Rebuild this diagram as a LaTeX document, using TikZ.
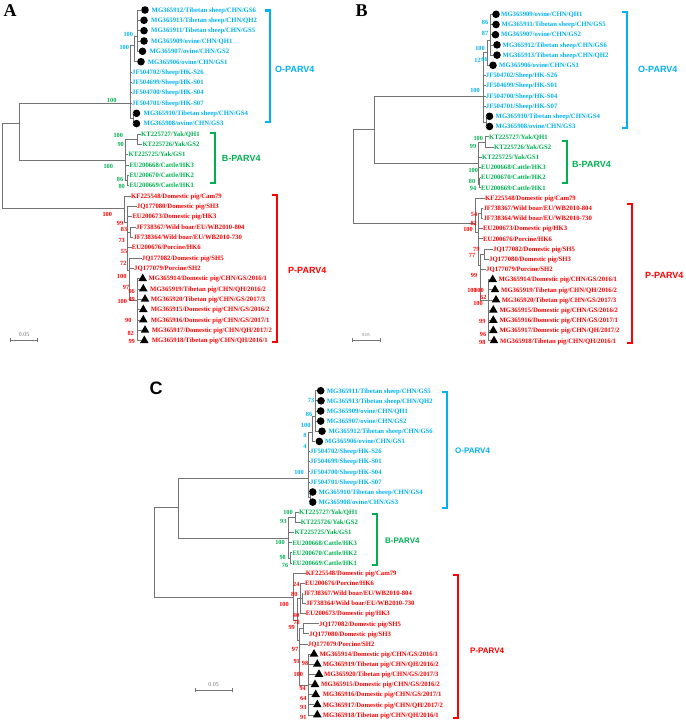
\documentclass[tikz,border=0pt]{standalone}
\usepackage{fontspec}
\setmainfont{Liberation Serif}
\newfontfamily\sansf{Liberation Sans}
\usetikzlibrary{shapes.geometric,calc}
\definecolor{ob}{HTML}{00B0F0}
\definecolor{bg}{HTML}{00B050}
\definecolor{pr}{HTML}{FF0000}
\definecolor{tg}{HTML}{747474}
\newcounter{bsn}
\tikzset{
  leaf/.style={anchor=west,inner sep=0pt,text height=4.6pt,text depth=0pt,font=\bfseries\fontsize{6.7}{7}\selectfont},
  boot/.style={inner sep=0pt,text height=4.4pt,text depth=0pt,font=\bfseries\fontsize{6.3}{7}\selectfont},
  br/.style={draw=tg,line width=0.75pt},
  dot/.style={circle,fill=black,minimum size=7.6pt,inner sep=0pt},
  tri/.style={regular polygon,regular polygon sides=3,fill=black,minimum size=10pt,inner sep=0pt},
  brk/.style={line width=2.4pt},
  brlab/.style={anchor=west,inner sep=0pt,text height=6pt,text depth=0pt},
  panel/.style={inner sep=0pt,font=\bfseries\fontsize{18}{18}\selectfont}
}
\newcommand\lf[6]{\node[leaf,text=#4] (#1) at (#2,#3) {#5}; \draw[br] (#6,#3) -- (#1.west);}
\newcommand\lfm[8]{\node[#2] (#1m) at (#3,#5) {}; \node[leaf,text=#6] (#1) at (#4,#5) {#7}; \draw[br] (#8,#5) -- (#1m.west);}
\newcommand\bs[4]{\stepcounter{bsn}\node[boot,text=#1] (bs\thebsn) at (#2,#3) {#4};}
\newcommand\brkt[9]{\draw[brk,#2] (#3-5,#4) -- (#3,#4) -- (#3,#5) -- (#3-5,#5); \node[brlab,text=#2,font=\sansf\bfseries\fontsize{#9}{#9}\selectfont] (#1) at (#6,#7) {#8};}
\newcommand\sbar[6]{\coordinate (#1l) at (#2,#4); \coordinate (#1r) at (#3,#4); \draw[br,line width=0.6pt] (#1l) -- (#1r); \draw[br,line width=0.6pt] ($(#1l)+(0,-2)$) -- ($(#1l)+(0,2)$); \draw[br,line width=0.6pt] ($(#1r)+(0,-2)$) -- ($(#1r)+(0,2)$); \node[inner sep=0pt,text=tg,font=\fontsize{#6}{#6}\selectfont] (#1t) at ($(#1l)!0.5!(#1r)+(0,-5)$) {#5};}
\begin{document}
\begin{tikzpicture}[x=1pt,y=-1pt]
\useasboundingbox (0,0) rectangle (685,725);
% ================= PANEL A =================
\node[panel] (pA) at (10,11) {A};
\draw[br] (2,123) -- (2,208); \draw[br] (2,123) -- (19,123); \draw[br] (2,208) -- (124,208);
\draw[br] (19,103) -- (19,160); \draw[br] (19,103) -- (130,103); \draw[br] (19,160) -- (125,160);
\draw[br] (130,45) -- (130,118); \draw[br] (130,45) -- (134,45); \draw[br] (134,36) -- (134,61.7);
\draw[br] (134,36) -- (137,36); \draw[br] (137,10) -- (137,51.3); \draw[br] (130,118) -- (133,118); \draw[br] (133,113.3) -- (133,123.6);
\draw[br] (125,139) -- (125,180); \draw[br] (125,139) -- (137,139); \draw[br] (137,134) -- (137,144.3);
\draw[br] (125,180) -- (127,180); \draw[br] (127,175.3) -- (127,185.6);
\draw[br] (124,196) -- (124,222); \draw[br] (124,222) -- (127,222); \draw[br] (127,206.3) -- (127,270);
\draw[br] (127,232) -- (130,232); \draw[br] (130,226.9) -- (130,237.3); \draw[br] (127,270) -- (129,270);
\draw[br] (129,257.9) -- (129,300); \draw[br] (129,300) -- (137,300); \draw[br] (137,278.6) -- (137,340.6);
\lfm{a1}{dot}{145}{151.5}{10}{ob}{MG365912/Tibetan sheep/CHN/GS6}{137}
\lfm{a2}{dot}{144}{151}{20.3}{ob}{MG365913/Tibetan sheep/CHN/QH2}{137}
\lfm{a3}{dot}{144}{151}{30.7}{ob}{MG365911/Tibetan sheep/CHN/GS5}{137}
\lfm{a4}{dot}{144}{151}{41}{ob}{MG365909/ovine/CHN/QH1}{137}
\lfm{a5}{dot}{142.5}{149.3}{51.3}{ob}{MG365907/ovine/CHN/GS2}{137}
\lfm{a6}{dot}{141}{147.7}{61.7}{ob}{MG365906/ovine/CHN/GS1}{134}
\lf{a7}{132}{72}{ob}{JF504702/Sheep/HK-S26}{130}
\lf{a8}{132}{82.3}{ob}{JF504699/Sheep/HK-S01}{130}
\lf{a9}{132}{92.6}{ob}{JF504700/Sheep/HK-S04}{130}
\lf{a10}{132}{103}{ob}{JF504701/Sheep/HK-S07}{130}
\lfm{a11}{dot}{136.5}{143.5}{113.3}{ob}{MG365910/Tibetan sheep/CHN/GS4}{133}
\lfm{a12}{dot}{136.5}{143.5}{123.6}{ob}{MG365908/ovine/CHN/GS3}{133}
\lf{a13}{141}{134}{bg}{KT225727/Yak/QH1}{137}
\lf{a14}{142.3}{144.3}{bg}{KT225726/Yak/GS2}{137}
\lf{a15}{128.3}{154.6}{bg}{KT225725/Yak/GS1}{125}
\lf{a16}{129.3}{165}{bg}{EU200668/Cattle/HK3}{125}
\lf{a17}{129.3}{175.3}{bg}{EU200670/Cattle/HK2}{127}
\lf{a18}{129.3}{185.6}{bg}{EU200669/Cattle/HK1}{127}
\lf{a19}{131}{196}{pr}{KF225548/Domestic pig/Cam79}{124}
\lf{a20}{136.7}{206.3}{pr}{JQ177080/Domestic pig/SH3}{127}
\lf{a21}{132.3}{216.6}{pr}{EU200673/Domestic pig/HK3}{127}
\lf{a22}{136}{226.9}{pr}{JF738367/Wild boar/EU/WB2010-804}{130}
\lf{a23}{133.3}{237.3}{pr}{JF738364/Wild boar/EU/WB2010-730}{130}
\lf{a24}{131.7}{247.6}{pr}{EU200676/Porcine/HK6}{127}
\lf{a25}{141.7}{257.9}{pr}{JQ177082/Domestic pig/SH5}{129}
\lf{a26}{134}{268.3}{pr}{JQ177079/Porcine/SH2}{129}
\lfm{a27}{tri}{142.7}{148.3}{278.6}{pr}{MG365914/Domestic pig/CHN/GS/2016/1}{137}
\lfm{a28}{tri}{143.3}{150}{288.9}{pr}{MG365919/Tibetan pig/CHN/QH/2016/2}{137}
\lfm{a29}{tri}{145}{150.7}{299.2}{pr}{MG365920/Tibetan pig/CHN/GS/2017/3}{137}
\lfm{a30}{tri}{143.3}{150.7}{309.6}{pr}{MG365915/Domestic pig/CHN/GS/2016/2}{137}
\lfm{a31}{tri}{143.3}{150.7}{319.9}{pr}{MG365916/Domestic pig/CHN/GS/2017/1}{137}
\lfm{a32}{tri}{145}{151.7}{330.2}{pr}{MG365917/Domestic pig/CHN/QH/2017/2}{137}
\lfm{a33}{tri}{144.3}{151.7}{340.6}{pr}{MG365918/Tibetan pig/CHN/QH/2016/1}{137}
\bs{ob}{128.3}{34}{100} \bs{ob}{124.3}{47.3}{100} \bs{bg}{111.7}{100}{100}
\bs{bg}{118.3}{135.7}{100} \bs{bg}{120.7}{144}{90} \bs{bg}{108.3}{166}{100} \bs{bg}{120}{179.3}{86} \bs{bg}{121.7}{186.7}{80}
\bs{pr}{107.3}{214}{100} \bs{pr}{120}{223.3}{99} \bs{pr}{124}{229.3}{83} \bs{pr}{121.7}{240}{73} \bs{pr}{124}{251.7}{55}
\bs{pr}{123.3}{263.3}{72} \bs{pr}{121.7}{276.7}{100} \bs{pr}{126}{287.7}{97} \bs{pr}{131.7}{291.7}{96} \bs{pr}{131.7}{299.3}{49}
\bs{pr}{122.3}{301.7}{100} \bs{pr}{128.3}{320}{90} \bs{pr}{130.7}{333.3}{82} \bs{pr}{131.7}{341.7}{99}
\brkt{oA}{ob}{270}{10.7}{122}{275}{69}{O-PARV4}{9}
\brkt{bA}{bg}{215}{132.7}{182.7}{221.7}{158.3}{B-PARV4}{9}
\brkt{pA}{pr}{277}{195}{342}{288}{270}{P-PARV4}{9}
\sbar{sA}{10.7}{37.3}{340}{0.05}{6}
% ================= PANEL B =================
\node[panel] (pB) at (361.7,11) {B};
\draw[br] (353,129) -- (353,223); \draw[br] (353,129) -- (374,129); \draw[br] (353,223) -- (475,223);
\draw[br] (374,96) -- (374,163); \draw[br] (374,96) -- (483,96); \draw[br] (374,163) -- (478,163);
\draw[br] (483,52) -- (483,122); \draw[br] (483,52) -- (487,52); \draw[br] (487,40) -- (487,65.3);
\draw[br] (487,40) -- (490,40); \draw[br] (490,14.3) -- (490,55.1); \draw[br] (483,122) -- (486,122); \draw[br] (486,116.3) -- (486,126.5);
\draw[br] (478,142) -- (478,184); \draw[br] (478,142) -- (485,142); \draw[br] (485,136.7) -- (485,146.9);
\draw[br] (478,184) -- (479.5,184); \draw[br] (479.5,177.5) -- (479.5,187.7);
\draw[br] (475,197.9) -- (475,232); \draw[br] (475,232) -- (478,232); \draw[br] (478,213) -- (478,265);
\draw[br] (478,213) -- (481,213); \draw[br] (481,208.1) -- (481,218.3); \draw[br] (478,265) -- (480,265);
\draw[br] (480,254) -- (480,300); \draw[br] (480,254) -- (484,254); \draw[br] (484,248.9) -- (484,259.1);
\draw[br] (480,300) -- (488,300); \draw[br] (488,279.5) -- (488,340.7);
\lfm{b1}{dot}{496}{501}{14.3}{ob}{MG365909/ovine/CHN/QH1}{490}
\lfm{b2}{dot}{496}{501.5}{24.5}{ob}{MG365911/Tibetan sheep/CHN/GS5}{490}
\lfm{b3}{dot}{495.5}{501}{34.7}{ob}{MG365907/ovine/CHN/GS2}{490}
\lfm{b4}{dot}{497}{502.5}{44.9}{ob}{MG365912/Tibetan sheep/CHN/GS6}{490}
\lfm{b5}{dot}{497}{502.5}{55.1}{ob}{MG365913/Tibetan sheep/CHN/QH2}{490}
\lfm{b6}{dot}{493}{499}{65.3}{ob}{MG365906/ovine/CHN/GS1}{487}
\lf{b7}{485.7}{75.5}{ob}{JF504702/Sheep/HK-S26}{483}
\lf{b8}{485.7}{85.7}{ob}{JF504699/Sheep/HK-S01}{483}
\lf{b9}{485.7}{95.9}{ob}{JF504700/Sheep/HK-S04}{483}
\lf{b10}{485.7}{106.1}{ob}{JF504701/Sheep/HK-S07}{483}
\lfm{b11}{dot}{489.5}{495.5}{116.3}{ob}{MG365910/Tibetan sheep/CHN/GS4}{486}
\lfm{b12}{dot}{489.5}{495.5}{126.5}{ob}{MG365908/ovine/CHN/GS3}{486}
\lf{b13}{489}{136.7}{bg}{KT225727/Yak/QH1}{485}
\lf{b14}{494}{146.9}{bg}{KT225726/Yak/GS2}{485}
\lf{b15}{482}{157.1}{bg}{KT225725/Yak/GS1}{478}
\lf{b16}{481}{167.3}{bg}{EU200668/Cattle/HK3}{478}
\lf{b17}{481}{177.5}{bg}{EU200670/Cattle/HK2}{479.5}
\lf{b18}{481}{187.7}{bg}{EU200669/Cattle/HK1}{479.5}
\lf{b19}{485}{197.9}{pr}{KF225548/Domestic pig/Cam79}{475}
\lf{b20}{483.3}{208.1}{pr}{JF738367/Wild boar/EU/WB2010-804}{481}
\lf{b21}{483.3}{218.3}{pr}{JF738364/Wild boar/EU/WB2010-730}{481}
\lf{b22}{483}{228.5}{pr}{EU200673/Domestic pig/HK3}{478}
\lf{b23}{483}{238.7}{pr}{EU200676/Porcine/HK6}{478}
\lf{b24}{493}{248.9}{pr}{JQ177082/Domestic pig/SH5}{484}
\lf{b25}{489}{259.1}{pr}{JQ177080/Domestic pig/SH3}{484}
\lf{b26}{486}{269.3}{pr}{JQ177079/Porcine/SH2}{480}
\lfm{b27}{tri}{492.7}{498.3}{279.5}{pr}{MG365914/Domestic pig/CHN/GS/2016/1}{488}
\lfm{b28}{tri}{495}{501}{289.7}{pr}{MG365919/Tibetan pig/CHN/QH/2016/2}{488}
\lfm{b29}{tri}{496}{501.7}{299.9}{pr}{MG365920/Tibetan pig/CHN/GS/2017/3}{488}
\lfm{b30}{tri}{493.3}{499.3}{310.1}{pr}{MG365915/Domestic pig/CHN/GS/2016/2}{488}
\lfm{b31}{tri}{493.3}{499.3}{320.3}{pr}{MG365916/Domestic pig/CHN/GS/2017/1}{488}
\lfm{b32}{tri}{493.3}{499.3}{330.5}{pr}{MG365917/Domestic pig/CHN/QH/2017/2}{488}
\lfm{b33}{tri}{494}{500}{340.7}{pr}{MG365918/Tibetan pig/CHN/QH/2016/1}{488}
\bs{ob}{485}{22}{86} \bs{ob}{485}{33.3}{87} \bs{ob}{480}{48.3}{100} \bs{ob}{477.5}{60}{12} \bs{ob}{484.5}{59}{66} \bs{ob}{475}{90.7}{100}
\bs{bg}{478.3}{138.3}{100} \bs{bg}{473}{146}{99} \bs{bg}{473.3}{170}{100} \bs{bg}{472}{181.7}{80} \bs{bg}{473}{188.7}{94}
\bs{pr}{474}{214}{54} \bs{pr}{473.7}{223.3}{82} \bs{pr}{468}{229.3}{100} \bs{pr}{476.3}{249.3}{79} \bs{pr}{472}{255}{77}
\bs{pr}{474}{275}{99} \bs{pr}{472}{290}{100} \bs{pr}{479}{290}{100} \bs{pr}{483.3}{297.7}{62} \bs{pr}{478}{303.3}{100}
\bs{pr}{482.3}{321}{99} \bs{pr}{483}{334}{96} \bs{pr}{482.3}{342}{98}
\brkt{oB}{ob}{627}{12}{128}{638}{70}{O-PARV4}{9}
\brkt{bB}{bg}{567}{141}{183}{572}{164}{B-PARV4}{9}
\brkt{pB}{pr}{632}{204}{343}{645}{275}{P-PARV4}{9}
\sbar{sB}{352}{380}{340}{0.05}{4.5}
% ================= PANEL C =================
\node[panel,font=\sansf\bfseries\fontsize{18}{18}\selectfont] (pC) at (156,388) {C};
\draw[br] (154,507) -- (154,597); \draw[br] (154,507) -- (178,507); \draw[br] (154,597) -- (293,597);
\draw[br] (178,478) -- (178,538); \draw[br] (178,478) -- (308,478); \draw[br] (178,538) -- (288,538);
\draw[br] (308,432) -- (308,497); \draw[br] (308,432) -- (312,432); \draw[br] (312,416) -- (312,441.4);
\draw[br] (312,416) -- (315,416); \draw[br] (315,390.7) -- (315,431.2); \draw[br] (308,497) -- (310,497); \draw[br] (310,492) -- (310,502.1);
\draw[br] (288,517) -- (288,558); \draw[br] (288,517) -- (295,517); \draw[br] (295,512.3) -- (295,522.4);
\draw[br] (288,558) -- (290,558); \draw[br] (290,552.8) -- (290,562.9);
\draw[br] (293,573) -- (293,620); \draw[br] (293,620) -- (297,620); \draw[br] (297,598) -- (297,640);
\draw[br] (297,598) -- (300,598); \draw[br] (300,583.2) -- (300,613.6); \draw[br] (300,598) -- (302,598); \draw[br] (302,593.3) -- (302,603.4);
\draw[br] (297,640) -- (299,640); \draw[br] (299,628.7) -- (299,685); \draw[br] (299,628.7) -- (303,628.7); \draw[br] (303,623.7) -- (303,633.8);
\draw[br] (299,685) -- (308,685); \draw[br] (308,654.1) -- (308,714.9);
\lfm{c1}{dot}{320.7}{326.7}{390.7}{ob}{MG365911/Tibetan sheep/CHN/GS5}{315}
\lfm{c2}{dot}{321}{326.7}{400.8}{ob}{MG365913/Tibetan sheep/CHN/QH2}{315}
\lfm{c3}{dot}{320.7}{326.7}{411}{ob}{MG365909/ovine/CHN/QH1}{315}
\lfm{c4}{dot}{320.7}{326.7}{421.1}{ob}{MG365907/ovine/CHN/GS2}{315}
\lfm{c5}{dot}{322}{328.3}{431.2}{ob}{MG365912/Tibetan sheep/CHN/GS6}{315}
\lfm{c6}{dot}{319.3}{325}{441.4}{ob}{MG365906/ovine/CHN/GS1}{312}
\lf{c7}{310}{451.5}{ob}{JF504702/Sheep/HK-S26}{308}
\lf{c8}{310}{461.6}{ob}{JF504699/Sheep/HK-S01}{308}
\lf{c9}{310}{471.7}{ob}{JF504700/Sheep/HK-S04}{308}
\lf{c10}{310}{481.9}{ob}{JF504701/Sheep/HK-S07}{308}
\lfm{c11}{dot}{312.7}{318.3}{492}{ob}{MG365910/Tibetan sheep/CHN/GS4}{310}
\lfm{c12}{dot}{312.7}{318.3}{502.1}{ob}{MG365908/ovine/CHN/GS3}{310}
\lf{c13}{299}{512.3}{bg}{KT225727/Yak/QH1}{295}
\lf{c14}{300.7}{522.4}{bg}{KT225726/Yak/GS2}{295}
\lf{c15}{294.3}{532.5}{bg}{KT225725/Yak/GS1}{288}
\lf{c16}{292.3}{542.7}{bg}{EU200668/Cattle/HK3}{288}
\lf{c17}{292.3}{552.8}{bg}{EU200670/Cattle/HK2}{290}
\lf{c18}{292.3}{562.9}{bg}{EU200669/Cattle/HK1}{290}
\lf{c19}{305.7}{573}{pr}{KF225548/Domestic pig/Cam79}{293}
\lf{c20}{305}{583.2}{pr}{EU200676/Porcine/HK6}{300}
\lf{c21}{303.3}{593.3}{pr}{JF738367/Wild boar/EU/WB2010-804}{302}
\lf{c22}{306}{603.4}{pr}{JF738364/Wild boar/EU/WB2010-730}{302}
\lf{c23}{305.7}{613.6}{pr}{EU200673/Domestic pig/HK3}{300}
\lf{c24}{319}{623.7}{pr}{JQ177082/Domestic pig/SH5}{303}
\lf{c25}{309}{633.8}{pr}{JQ177080/Domestic pig/SH3}{303}
\lf{c26}{307.7}{644}{pr}{JQ177079/Porcine/SH2}{299}
\lfm{c27}{tri}{314}{319.3}{654.1}{pr}{MG365914/Domestic pig/CHN/GS/2016/1}{308}
\lfm{c28}{tri}{317.3}{322.7}{664.2}{pr}{MG365919/Tibetan pig/CHN/QH/2016/2}{308}
\lfm{c29}{tri}{319}{324}{674.3}{pr}{MG365920/Tibetan pig/CHN/GS/2017/3}{308}
\lfm{c30}{tri}{315}{321}{684.5}{pr}{MG365915/Domestic pig/CHN/GS/2016/2}{308}
\lfm{c31}{tri}{315.7}{322.7}{694.6}{pr}{MG365916/Domestic pig/CHN/GS/2017/1}{308}
\lfm{c32}{tri}{317.3}{322.7}{704.7}{pr}{MG365917/Domestic pig/CHN/QH/2017/2}{308}
\lfm{c33}{tri}{317.3}{322.7}{714.9}{pr}{MG365918/Tibetan pig/CHN/QH/2016/1}{308}
\bs{ob}{311}{400.7}{73} \bs{ob}{309}{414}{86} \bs{ob}{305.7}{425.7}{100} \bs{ob}{305}{435.7}{8} \bs{ob}{305}{446}{4} \bs{ob}{299}{472}{100}
\bs{bg}{288}{512.7}{100} \bs{bg}{283.3}{521}{93} \bs{bg}{280}{542.7}{100} \bs{bg}{282.7}{557.7}{98} \bs{bg}{285}{565}{76}
\bs{pr}{296.3}{584}{24} \bs{pr}{294.3}{594}{80} \bs{pr}{284}{604}{100} \bs{pr}{296}{615}{40} \bs{pr}{296.7}{622.7}{78}
\bs{pr}{291.7}{627.3}{99} \bs{pr}{295}{649.3}{97} \bs{pr}{296.7}{661.7}{91} \bs{pr}{305}{663.3}{98} \bs{pr}{298.3}{674}{100}
\bs{pr}{302.7}{688.3}{94} \bs{pr}{303.3}{698.3}{64} \bs{pr}{303.3}{707.3}{93} \bs{pr}{303.3}{717.3}{91}
\brkt{oC}{ob}{447}{391.7}{508}{455}{450}{O-PARV4}{8}
\brkt{bC}{bg}{376.7}{514}{565}{385}{540}{B-PARV4}{8}
\brkt{pC}{pr}{458}{575}{718}{470}{650}{P-PARV4}{8}
\sbar{sC}{195}{232}{690}{0.05}{6}
\end{tikzpicture}
\end{document}
